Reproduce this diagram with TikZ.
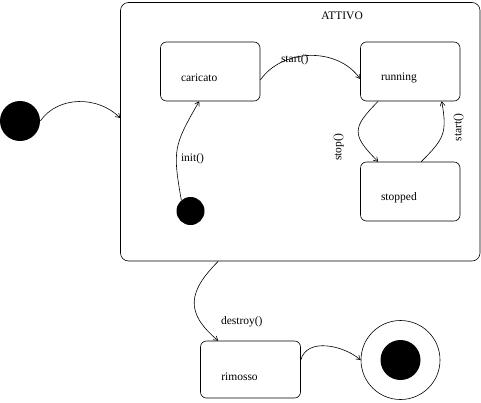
\documentclass[tikz,border=0pt]{standalone}
\usepackage{fontspec}
\setmainfont{Liberation Serif}
\usetikzlibrary{arrows.meta}
\begin{document}
\begin{tikzpicture}[x=1pt,y=1pt,
  >={Straight Barb[length=4pt,width=5pt]},
  every path/.style={line width=0.6pt},
  statebox/.style={draw, rounded corners=6pt, inner sep=0pt},
  lbl/.style={font=\fontsize{11.5}{13}\selectfont, inner sep=0pt},
  conn/.style={->},
  dot/.style={circle, fill=black, inner sep=0pt}]
\useasboundingbox (0,0) rectangle (481,-402);
% outer composite state
\node[statebox, rounded corners=8pt, minimum width=359.5pt, minimum height=258.5pt] (attivo) at (300.25,-131.75) {};
\node[lbl, anchor=base west] (attivolbl) at (321,-19.5) {ATTIVO};
% inner states
\node[statebox, minimum width=99.5pt, minimum height=59pt] (caricato) at (210.25,-71.5) {};
\node[lbl, anchor=base west] (caricatolbl) at (180.7,-81) {caricato};
\node[statebox, minimum width=99.5pt, minimum height=59pt] (running) at (410.25,-71.5) {};
\node[lbl, anchor=base west] (runninglbl) at (380.7,-80.5) {running};
\node[statebox, minimum width=99.5pt, minimum height=59pt] (stopped) at (410.25,-191.5) {};
\node[lbl, anchor=base west] (stoppedlbl) at (380.7,-200) {stopped};
\node[statebox, minimum width=100pt, minimum height=57pt] (rimosso) at (250.5,-369.5) {};
\node[lbl, anchor=base west] (rimossolbl) at (221,-380.7) {rimosso};
% pseudo states
\node[dot, minimum size=40pt] (start) at (20,-121) {};
\node[dot, minimum size=28pt] (init) at (190.5,-211) {};
\node[circle, draw, minimum size=79pt, inner sep=0pt] (final) at (400.5,-360) {};
\node[dot, minimum size=40pt] (finaldot) at (400.5,-360) {};
% connectors
\draw[conn] (start.east) to[out=55,in=135] ([yshift=13.75pt]attivo.west);
\draw[conn] (init.130) to[out=100,in=240,looseness=1.3] ([xshift=39pt]caricato.south west);
\node[lbl, anchor=base west] (initlbl) at (180.7,-161.7) {init()};
\draw[conn] ([yshift=-8.5pt]caricato.east) to[out=55,in=125] ([yshift=-7.5pt]running.west);
\node[lbl, anchor=base west] (startlbl) at (280.7,-62) {start()};
\draw[conn] ([xshift=18pt]running.south west) to[out=225,in=135,looseness=1.6] ([xshift=18pt]stopped.north west);
\node[lbl, rotate=90] (stoplbl) at (338.5,-147.5) {stop()};
\draw[conn] ([xshift=61pt]stopped.north west) to[out=45,in=280,looseness=1.3] ([xshift=81.5pt]running.south west);
\node[lbl, rotate=90] (start2lbl) at (458.5,-127.5) {start()};
\draw[conn] ([xshift=-82pt]attivo.south) to[out=225,in=140,looseness=1.4] ([xshift=18pt]rimosso.north west);
\node[lbl, anchor=base west] (destroylbl) at (220.7,-324) {destroy()};
\draw[conn] ([yshift=9.5pt]rimosso.east) to[out=75,in=140] (final.west);
\end{tikzpicture}
\end{document}
